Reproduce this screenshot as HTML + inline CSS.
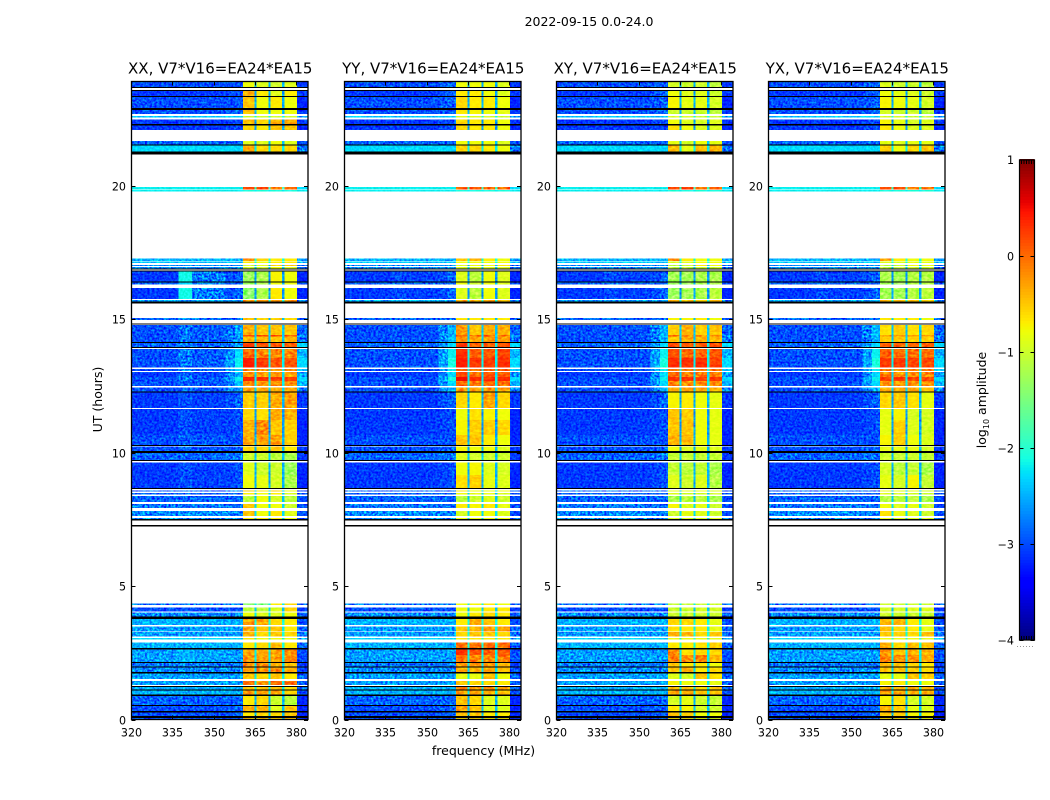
<!DOCTYPE html>
<html>
<head>
<meta charset="utf-8">
<title>2022-09-15 dynamic spectra</title>
<style>
html,body{margin:0;padding:0;background:#fff;}
svg{display:block;}
text{font-family:"DejaVu Sans","Liberation Sans",sans-serif;fill:#000;}
</style>
</head>
<body>
<svg id="chart" xmlns="http://www.w3.org/2000/svg" width="1050" height="800" viewBox="0 0 1050 800">
  <defs>
    <filter id="speckle-strong" filterUnits="userSpaceOnUse" x="0" y="0" width="1050" height="800" color-interpolation-filters="sRGB">
      <feTurbulence type="fractalNoise" baseFrequency="0.42 0.5" numOctaves="2" seed="3" result="n"/>
      <feColorMatrix in="n" type="matrix" values="2 0 0 0 -0.5 2 0 0 0 -0.5 2 0 0 0 -0.5 0 0 0 0 1" result="g"/>
      <feBlend in="g" in2="SourceGraphic" mode="overlay" result="b"/>
      <feComposite in="b" in2="SourceGraphic" operator="in"/>
    </filter>
    <filter id="speckle-mild" filterUnits="userSpaceOnUse" x="0" y="0" width="1050" height="800" color-interpolation-filters="sRGB">
      <feTurbulence type="fractalNoise" baseFrequency="0.25 0.4" numOctaves="2" seed="8" result="n"/>
      <feColorMatrix in="n" type="matrix" values="1 0 0 0 0 1 0 0 0 0 1 0 0 0 0 0 0 0 0 1" result="g"/>
      <feBlend in="g" in2="SourceGraphic" mode="overlay" result="b"/>
      <feComposite in="b" in2="SourceGraphic" operator="in"/>
    </filter>
  </defs>
  <text x="589" y="26" font-size="12.5" text-anchor="middle">2022-09-15 0.0-24.0</text>
  <g id="panels"></g>
  <text transform="translate(102,399.5) rotate(-90)" font-size="12.5" text-anchor="middle">UT (hours)</text>
  <text x="483.5" y="755" font-size="12.5" text-anchor="middle">frequency (MHz)</text>
  <g id="colorbar"></g>
  <text transform="translate(986,400) rotate(-90)" font-size="12.5" text-anchor="middle">log<tspan font-size="8" dy="3">10</tspan><tspan dy="-3"> amplitude</tspan></text>
</svg>
<script>
const panelTitles = ["XX, V7*V16=EA24*EA15","YY, V7*V16=EA24*EA15","XY, V7*V16=EA24*EA15","YX, V7*V16=EA24*EA15"];
const xTickValues = [320,335,350,365,380];
const yTickValues = [0,5,10,15,20];
const colorbarTicks = [1,0,-1,-2,-3,-4];
const freqEdges = [320,337,342,354,357.5,360.5,364.6,365.4,369.6,370.4,374.6,375.4,380,384];
const stripeShare = [1,0.1,0.1,0.1];

const utRowTop = [23.88,23.54,23.31,22.83,22.61,22.47,22.25,21.67,21.51,19.94,19.83,17.27,17.15,17.03,16.95,16.77,16.36,16.17,15.71,15.03,14.78,14.40,14.34,14.10,13.88,13.54,13.13,13.01,12.82,12.67,12.44,12.24,11.63,11.22,10.66,10.22,9.99,9.63,9.15,8.57,8.49,8.38,8.07,7.81,7.55,4.35,4.20,4.01,3.76,3.49,3.27,3.05,2.88,2.63,2.41,2.12,1.94,1.73,1.45,1.22,1.08,0.88,0.52,0.27,0.06];
const utRowBottom = [23.65,23.35,22.90,22.68,22.54,22.30,22.08,21.54,21.27,19.85,19.78,17.18,17.09,16.99,16.90,16.40,16.30,15.75,15.66,14.96,14.40,14.34,14.13,13.96,13.54,13.18,13.05,12.82,12.67,12.49,12.28,11.67,11.22,10.66,10.28,10.06,9.72,9.15,8.67,8.53,8.42,8.15,7.92,7.62,7.51,4.28,4.05,3.85,3.53,3.30,3.10,3.00,2.67,2.41,2.15,1.98,1.77,1.51,1.29,1.12,0.93,0.55,0.31,0.13,0];
const flaggedSpans = [[23.65,23.69],[23.54,23.58],[23.31,23.35],[22.83,22.90],[22.25,22.30],[21.51,21.54],[21.17,21.27],[16.86,16.90],[16.79,16.82],[16.36,16.40],[15.58,15.66],[14.79,14.84],[14.10,14.13],[13.93,13.96],[12.24,12.28],[10.24,10.28],[9.99,10.06],[9.68,9.72],[8.63,8.67],[7.45,7.51],[7.22,7.28],[3.81,3.85],[3.76,3.80],[2.63,2.67],[2.12,2.15],[1.94,1.98],[1.73,1.77],[1.22,1.25],[1.08,1.12],[0.88,0.93],[0.52,0.55],[0.27,0.31],[0.06,0.13]];

// shared per-row levels: low band, 337-342 stripe, upper edge, channel gaps
const sharedBand = [
[-3.0,-3.0,-3.1,-2.5],[-3.1,-3.1,-3.1,-2.6],[-3.0,-3.0,-3.2,-2.5],[-3.0,-3.0,-3.1,-2.5],[-2.4,-2.4,-2.6,-2.1],
[-3.1,-3.1,-3.1,-2.6],[-3.1,-3.1,-3.2,-2.6],[-2.9,-2.9,-3.0,-2.4],[-2.3,-2.3,-2.8,-2.2],[-2.2,-2.2,-2.3,-1.9],
[-2.2,-2.2,-2.2,-2.2],[-2.5,-2.5,-2.6,-2.1],[-2.4,-2.4,-2.5,-2.1],[-2.7,-2.7,-2.9,-2.4],[-2.7,-2.7,-2.9,-2.4],
[-3.1,-2.15,-3.2,-2.6],[-2.9,-2.3,-3.0,-2.5],[-3.1,-2.15,-3.2,-2.6],[-2.6,-2.6,-2.7,-2.1],[-2.9,-2.8,-2.9,-2.4],
[-3.0,-2.8,-2.9,-2.4],[-3.0,-2.8,-2.6,-2.3],[-3.0,-2.8,-2.8,-2.4],[-2.9,-2.8,-2.3,-2.2],[-3.0,-2.8,-2.5,-2.2],
[-3.0,-2.8,-2.3,-2.2],[-3.0,-2.8,-2.4,-2.2],[-3.1,-2.9,-2.6,-2.3],[-3.0,-2.8,-2.3,-2.2],[-3.0,-2.9,-2.5,-2.2],
[-3.0,-2.9,-2.7,-2.3],[-3.1,-3.0,-3.1,-2.5],[-3.1,-3.0,-3.2,-2.6],[-3.1,-3.0,-3.2,-2.6],[-3.0,-2.9,-3.2,-2.5],
[-3.0,-2.9,-3.1,-2.5],[-2.9,-2.9,-3.1,-2.4],[-3.1,-3.0,-3.2,-2.5],[-3.1,-3.0,-3.2,-2.5],[-2.9,-2.9,-3.0,-2.3],
[-2.9,-2.9,-3.0,-2.4],[-2.9,-2.9,-3.0,-2.4],[-2.8,-2.8,-3.0,-2.3],[-2.7,-2.7,-3.0,-2.3],[-2.7,-2.7,-2.9,-2.3],
[-2.8,-2.8,-2.9,-2.2],[-3.0,-3.0,-3.1,-2.4],[-2.7,-2.7,-2.9,-2.2],[-2.5,-2.5,-3.0,-2.1],[-2.6,-2.6,-2.9,-2.2],
[-2.6,-2.6,-2.8,-2.1],[-2.3,-2.3,-2.6,-2.0],[-2.5,-2.5,-2.9,-2.1],[-2.6,-2.5,-3.0,-2.2],[-2.6,-2.5,-3.0,-2.2],
[-2.8,-2.7,-3.1,-2.3],[-2.7,-2.7,-3.0,-2.3],[-2.6,-2.6,-2.9,-2.2],[-2.6,-2.6,-2.9,-2.2],[-2.5,-2.5,-2.9,-2.2],
[-2.5,-2.5,-3.0,-2.2],[-2.9,-2.9,-3.2,-2.5],[-3.0,-3.0,-3.2,-2.4],[-3.0,-3.0,-3.2,-2.4],[-3.0,-3.0,-3.2,-2.5]];

// per-product levels: shoulder, then four correlator sub-bands
const xxBand = [
[-3.0,-0.8,-0.9,-1.0,-0.9],[-3.0,-0.4,-0.7,-0.9,-0.7],[-3.0,-0.5,-0.8,-0.7,-0.8],[-2.9,-0.5,-0.8,-0.8,-0.8],[-2.3,-1.0,-1.0,-1.0,-1.0],
[-3.0,-0.5,-0.6,-0.4,-0.35],[-3.0,-0.6,-0.7,-0.5,-0.5],[-2.9,-0.9,-0.9,-0.8,-0.9],[-2.3,-0.4,-0.6,-0.6,-0.6],[-2.2,0.2,0.1,-0.1,0],
[-2.2,-2.1,-2.1,-2.1,-2.1],[-2.5,-0.2,-0.6,-0.7,-0.7],[-2.4,-0.7,-0.8,-0.7,-0.7],[-2.7,-1.0,-0.9,-0.6,-0.5],[-2.7,-1.0,-1.0,-0.8,-0.9],
[-2.9,-1.3,-1.2,-0.75,-0.8],[-2.9,-1.3,-1.2,-0.8,-0.8],[-2.9,-1.4,-1.2,-0.7,-0.8],[-2.6,-0.2,-0.3,-0.3,-0.3],[-2.8,-0.5,-0.6,-0.5,-0.6],
[-2.6,-0.4,-0.5,-0.5,-0.5],[-2.6,0.1,0.2,0.2,0.1],[-2.6,-0.4,-0.4,-0.5,-0.4],[-2.6,0.25,0.1,0.1,0.05],[-2.3,0,-0.15,-0.15,-0.15],
[-2.2,0.4,0.25,0.1,0.1],[-2.3,-0.1,-0.2,-0.2,-0.15],[-2.5,-0.25,-0.3,-0.3,-0.3],[-2.2,0.35,0.3,0.2,0.2],[-2.4,-0.2,-0.25,-0.2,-0.2],
[-2.6,-0.3,-0.35,-0.35,-0.35],[-2.9,-0.55,-0.55,-0.35,-0.3],[-3.0,-0.6,-0.65,-0.35,-0.4],[-3.0,-0.4,-0.2,-0.5,-0.55],[-3.0,-0.35,-0.3,-0.3,-0.55],
[-2.9,-0.6,-0.6,-0.5,-0.7],[-2.8,-1.0,-1.0,-1.1,-1.2],[-3.0,-0.9,-1.0,-1.0,-1.3],[-3.0,-0.8,-0.85,-0.95,-1.2],[-2.8,-0.6,-0.7,-0.6,-0.8],
[-2.9,-0.7,-0.8,-0.7,-0.9],[-2.9,-1.1,-0.8,-0.95,-1.1],[-2.9,-0.5,-0.8,-0.8,-1.0],[-2.8,-0.5,-0.8,-0.7,-0.9],[-2.8,-0.7,-0.7,-0.7,-0.8],
[-2.8,-1.4,-1.5,-0.7,-0.6],[-3.0,-1.1,-1.1,-0.9,-0.6],[-2.7,-0.8,-0.9,-0.9,-0.8],[-2.5,-0.25,-0.3,-0.6,-0.7],[-2.6,-0.3,-0.5,-0.5,-0.7],
[-2.6,-0.4,-0.6,-0.5,-0.6],[-2.3,-0.7,-0.8,-0.8,-0.8],[-2.5,-0.7,-0.6,-0.45,-0.7],[-2.6,-0.35,-0.35,-0.3,-0.2],[-2.6,-0.25,-0.3,-0.25,-0.15],
[-2.8,-0.2,-0.15,-0.4,-0.5],[-2.7,-0.3,-0.25,-0.2,-0.4],[-2.6,-0.5,-0.6,-0.5,-0.7],[-2.6,-0.1,-0.25,0,-0.05],[-2.5,-0.5,-0.5,-0.5,-0.6],
[-2.5,-0.25,-0.3,-0.3,-0.6],[-2.9,-0.7,-0.6,-1.0,-1.1],[-2.9,-0.4,-0.4,-0.9,-0.5],[-2.9,-0.7,-0.6,-0.6,-0.5],[-2.9,-0.5,-0.5,-0.6,-0.5]];
const yyBand = [
[-2.9,-0.8,-0.8,-0.8,-0.9],[-2.9,-0.7,-0.7,-0.8,-0.9],[-2.9,-0.6,-0.7,-0.7,-0.8],[-2.9,-0.7,-0.75,-0.8,-0.85],[-2.3,-0.9,-0.9,-0.95,-1],
[-3.0,-0.6,-0.7,-0.7,-0.8],[-3.0,-0.6,-0.7,-0.7,-0.8],[-2.9,-0.8,-0.8,-0.8,-0.9],[-2.3,-0.6,-0.6,-0.7,-0.8],[-2.2,0.1,0.1,-0.1,0],
[-2.2,-2.1,-2.1,-2.1,-2.1],[-2.5,-0.5,-0.4,-0.7,-0.8],[-2.4,-0.8,-0.8,-0.8,-0.8],[-2.6,-0.9,-0.8,-0.8,-0.7],[-2.6,-0.9,-0.9,-0.9,-0.9],
[-2.9,-0.9,-1.1,-0.8,-0.9],[-2.9,-0.8,-1.0,-0.8,-0.9],[-2.9,-0.9,-1.1,-0.8,-0.9],[-2.6,-0.3,-0.4,-0.4,-0.4],[-2.8,-0.6,-0.7,-0.7,-0.7],
[-2.5,-0.25,-0.5,-0.35,-0.4],[-2.5,0.05,-0.05,0,-0.05],[-2.4,-0.25,-0.35,-0.3,-0.3],[-2.3,0.25,0.05,0.1,0.1],[-2.2,0.3,0.05,0.1,0.2],
[-2.1,0.4,0.25,0.25,0.3],[-2.2,0.1,-0.05,0.05,0.05],[-2.3,0.15,-0.05,0.1,0.1],[-2.1,0.5,0.35,0.3,0.35],[-2.3,0,-0.1,0,-0.05],
[-2.5,-0.2,-0.35,-0.25,-0.3],[-2.9,-0.6,-0.7,-0.3,-0.6],[-3.0,-0.8,-0.65,-0.75,-0.8],[-3.0,-0.75,-0.55,-0.55,-0.6],[-3.0,-0.5,-0.5,-0.7,-0.8],
[-2.9,-0.75,-0.8,-0.8,-0.9],[-2.8,-0.9,-1.0,-1.0,-1.0],[-3.0,-0.8,-0.75,-0.9,-0.95],[-3.0,-0.65,-0.55,-0.85,-0.9],[-2.8,-0.7,-0.8,-0.8,-0.8],
[-2.9,-0.8,-0.85,-0.85,-0.9],[-2.9,-1.1,-1.0,-0.9,-1.0],[-2.9,-0.7,-0.75,-0.7,-0.85],[-2.8,-0.95,-0.8,-0.8,-0.9],[-2.8,-0.8,-0.8,-0.8,-0.8],
[-2.8,-0.8,-0.75,-0.7,-0.8],[-3.0,-0.8,-0.8,-0.7,-0.7],[-2.7,-0.8,-0.7,-0.6,-0.7],[-2.5,-0.7,-0.35,-0.5,-0.7],[-2.6,-0.5,-0.4,-0.3,-0.3],
[-2.6,-0.6,-0.5,-0.5,-0.6],[-2.3,-0.7,-0.7,-0.7,-0.7],[-2.5,0,-0.05,0,-0.05],[-2.6,0.3,0.1,0.05,0.05],[-2.6,-0.05,-0.15,-0.2,-0.1],
[-2.8,-0.3,-0.25,-0.3,-0.4],[-2.7,-0.4,-0.4,-0.35,-0.5],[-2.6,-0.85,-0.85,-0.5,-0.8],[-2.6,-0.5,-0.6,-0.6,-0.7],[-2.5,-0.05,-0.2,-0.2,-0.3],
[-2.5,-0.3,-0.35,-0.4,-0.5],[-2.9,-0.5,-0.6,-0.9,-0.9],[-2.9,-0.3,-0.5,-0.9,-0.9],[-2.9,-0.5,-0.5,-0.7,-0.7],[-2.9,-0.6,-0.6,-0.7,-0.7]];
const xyBand = [
[-2.9,-0.95,-1.0,-1.0,-1.1],[-2.9,-0.8,-0.9,-0.9,-1.0],[-2.9,-0.75,-0.85,-0.85,-0.95],[-2.9,-1.0,-1.0,-1.0,-1.1],[-2.4,-0.95,-0.95,-1.05,-1.05],
[-3.0,-0.8,-0.9,-0.95,-0.9],[-3.0,-0.65,-0.8,-0.9,-0.9],[-2.9,-0.85,-0.95,-0.8,-0.85],[-2.3,-0.45,-0.85,-0.5,-0.4],[-2.2,0.2,0.2,-0.1,0],
[-2.2,-2.1,-2.1,-2.1,-2.1],[-2.5,-0.2,-0.7,-0.8,-0.8],[-2.4,-0.9,-0.9,-0.8,-0.8],[-2.7,-1.1,-1.0,-0.7,-0.8],[-2.7,-1.1,-1.1,-1.0,-1.0],
[-2.9,-1.25,-1.25,-1.2,-1.2],[-2.9,-1.3,-1.3,-1.2,-1.2],[-2.9,-1.3,-1.25,-1.2,-1.1],[-2.6,-0.4,-0.5,-0.5,-0.5],[-2.8,-0.75,-0.75,-0.7,-0.8],
[-2.5,-0.55,-0.4,-0.55,-0.5],[-2.5,-0.1,-0.2,-0.2,-0.2],[-2.5,-0.5,-0.35,-0.4,-0.45],[-2.3,0.15,0.05,0.1,0.1],[-2.2,0.15,0,0,0.1],
[-2.1,0.3,0.3,0.3,0.2],[-2.2,-0.05,-0.1,-0.05,-0.05],[-2.3,-0.05,-0.15,-0.15,-0.1],[-2.2,0.3,0.3,0.25,0.25],[-2.3,-0.15,-0.2,-0.2,-0.2],
[-2.5,-0.3,-0.3,-0.35,-0.4],[-2.9,-0.75,-0.7,-0.8,-0.85],[-3.0,-0.5,-0.55,-0.8,-0.85],[-3.0,-0.5,-0.5,-0.8,-0.85],[-3.0,-0.4,-0.45,-0.8,-0.85],
[-2.9,-0.8,-0.9,-0.85,-0.9],[-2.8,-1.05,-1.05,-1.05,-1.05],[-3.0,-1.05,-1.1,-1.05,-1.2],[-3.0,-0.9,-1.0,-0.9,-1.15],[-2.8,-0.85,-0.85,-0.85,-0.9],
[-2.9,-0.9,-0.95,-0.95,-1.0],[-2.9,-1.2,-1.1,-1.1,-1.2],[-2.9,-0.75,-0.9,-0.85,-1.0],[-2.8,-1.0,-0.85,-0.9,-1.0],[-2.8,-0.9,-0.9,-0.9,-0.9],
[-2.8,-1.05,-1.05,-1.05,-1.0],[-3.0,-1.0,-1.0,-0.95,-0.95],[-2.7,-1.0,-1.0,-1.0,-1.0],[-2.5,-0.6,-0.6,-0.7,-0.85],[-2.6,-0.65,-0.7,-0.7,-0.85],
[-2.6,-0.35,-0.4,-0.6,-0.5],[-2.3,-0.8,-0.8,-0.8,-0.85],[-2.5,-0.7,-0.7,-0.65,-0.55],[-2.6,-0.15,-0.65,-0.6,-0.6],[-2.6,-0.15,-0.2,-0.1,-0.45],
[-2.8,-0.5,-0.7,-0.7,-0.8],[-2.7,-0.5,-0.4,-0.7,-0.6],[-2.6,-0.9,-0.95,-0.5,-0.65],[-2.6,-0.75,-0.8,-0.8,-0.85],[-2.5,-0.45,-0.5,-0.6,-0.5],
[-2.5,-0.35,-0.35,-0.5,-0.5],[-2.9,-0.95,-0.85,-1.0,-1.05],[-2.9,-0.7,-0.75,-0.95,-1.0],[-2.9,-0.5,-0.55,-0.8,-0.8],[-2.9,-0.7,-0.7,-0.8,-0.9]];
const yxBand = [
[-2.9,-0.9,-1.0,-1.0,-1.1],[-2.9,-0.8,-0.85,-0.9,-1.0],[-2.9,-0.75,-0.8,-0.85,-0.95],[-2.9,-0.95,-1.0,-1.0,-1.1],[-2.4,-0.95,-0.95,-1.05,-1.05],
[-3.0,-0.75,-0.85,-0.95,-0.9],[-3.0,-0.7,-0.8,-0.9,-0.9],[-2.9,-0.85,-0.9,-0.85,-0.85],[-2.3,-0.55,-0.8,-0.6,-0.5],[-2.2,0.15,0.15,-0.1,-0.05],
[-2.2,-2.1,-2.1,-2.1,-2.1],[-2.5,-0.3,-0.7,-0.8,-0.8],[-2.4,-0.9,-0.9,-0.85,-0.85],[-2.7,-1.1,-1.0,-0.8,-0.85],[-2.7,-1.1,-1.1,-1.0,-1.0],
[-2.9,-1.2,-1.25,-1.15,-1.15],[-2.9,-1.25,-1.3,-1.15,-1.15],[-2.9,-1.25,-1.25,-1.15,-1.1],[-2.6,-0.45,-0.5,-0.5,-0.55],[-2.8,-0.7,-0.7,-0.7,-0.8],
[-2.5,-0.65,-0.55,-0.65,-0.6],[-2.5,-0.2,-0.3,-0.3,-0.3],[-2.5,-0.55,-0.5,-0.55,-0.55],[-2.3,0.1,0,0,0.05],[-2.2,0.05,-0.05,-0.05,0],
[-2.1,0.25,0.25,0.2,0.15],[-2.2,-0.15,-0.2,-0.1,-0.1],[-2.3,-0.1,-0.2,-0.2,-0.15],[-2.2,0.25,0.25,0.2,0.15],[-2.3,-0.2,-0.25,-0.2,-0.2],
[-2.5,-0.35,-0.35,-0.35,-0.45],[-2.9,-0.6,-0.5,-0.65,-0.85],[-3.0,-0.85,-0.75,-0.95,-0.95],[-3.0,-0.85,-0.55,-0.9,-0.95],[-3.0,-0.75,-0.55,-0.8,-0.9],
[-2.9,-0.85,-0.85,-0.85,-0.95],[-2.8,-1.0,-1.05,-1.0,-1.05],[-3.0,-0.95,-1.1,-1.05,-1.2],[-3.0,-0.85,-0.95,-0.75,-1.05],[-2.8,-0.85,-0.85,-0.85,-0.9],
[-2.9,-0.9,-0.95,-0.95,-1.0],[-2.9,-1.15,-1.1,-1.1,-1.2],[-2.9,-0.8,-0.9,-0.85,-1.0],[-2.8,-0.65,-0.85,-0.9,-1.0],[-2.8,-0.85,-0.9,-0.9,-0.9],
[-2.8,-1.0,-1.0,-1.0,-1.0],[-3.0,-0.95,-0.95,-0.9,-0.9],[-2.7,-1.0,-1.0,-1.0,-1.0],[-2.5,-0.4,-0.4,-0.7,-0.85],[-2.6,-0.45,-0.6,-0.7,-0.85],
[-2.6,-0.55,-0.55,-0.6,-0.45],[-2.3,-0.8,-0.8,-0.8,-0.85],[-2.5,-0.35,-0.6,-0.45,-0.5],[-2.6,-0.25,-0.5,-0.4,-0.4],[-2.6,-0.15,-0.2,-0.2,-0.35],
[-2.8,-0.45,-0.5,-0.6,-0.7],[-2.7,-0.5,-0.45,-0.55,-0.6],[-2.6,-0.85,-0.85,-0.5,-0.55],[-2.6,-0.75,-0.7,-0.8,-0.8],[-2.5,-0.35,-0.4,-0.4,-0.4],
[-2.5,-0.3,-0.35,-0.4,-0.4],[-2.9,-0.75,-0.65,-0.95,-0.95],[-2.9,-0.4,-0.55,-0.85,-0.9],[-2.9,-0.5,-0.55,-0.75,-0.75],[-2.9,-0.65,-0.65,-0.75,-0.8]];
const productBands = [xxBand,yyBand,xyBand,yxBand];
const productNames = ["xx","yy","xy","yx"];

const NS = "http://www.w3.org/2000/svg";
const plotLeft = [131.5,344.5,556.5,768.5];
const plotWidth = 176.5;
const plotTop = 81.5;
const plotBottom = 719.5;
const xScale = (mhz, p) => plotLeft[p] + (mhz - 320) * plotWidth / 64;
const yScale = (hour) => plotBottom - hour * 26.7;

function jetChannel(t, points) {
  for (let i = 1; i < points.length; i++) {
    if (t <= points[i][0]) {
      const a = points[i - 1], b = points[i];
      return a[1] + (b[1] - a[1]) * (t - a[0]) / (b[0] - a[0]);
    }
  }
  return points[points.length - 1][1];
}
function colorScale(v) {
  const t = Math.max(0, Math.min(1, (v + 4) / 5));
  const r = jetChannel(t, [[0,0],[0.35,0],[0.66,1],[0.89,1],[1,0.5]]);
  const g = jetChannel(t, [[0,0],[0.125,0],[0.375,1],[0.64,1],[0.91,0],[1,0]]);
  const b = jetChannel(t, [[0,0.5],[0.11,1],[0.34,1],[0.65,0],[1,0]]);
  return "rgb(" + Math.round(r * 255) + "," + Math.round(g * 255) + "," + Math.round(b * 255) + ")";
}
function make(tag, parent) {
  const el = document.createElementNS(NS, tag);
  parent.appendChild(el);
  return el;
}
function cellValue(p, row, bin) {
  const s = sharedBand[row], q = productBands[p][row];
  if (bin === 0) return s[0];
  if (bin === 1) return s[0] + (s[1] - s[0]) * stripeShare[p];
  if (bin === 2) return s[0] + (s[1] - s[0]) * stripeShare[p] * 0.35;
  if (bin === 3) return (s[0] + q[0]) / 2;
  if (bin === 4) return q[0];
  if (bin === 5) return q[1];
  if (bin === 7) return q[2];
  if (bin === 9) return q[3];
  if (bin === 11) return q[4];
  if (bin === 12) return s[2];
  return s[3];
}

const panelsRoot = document.getElementById("panels");
for (let p = 0; p < 4; p++) {
  const panel = make("g", panelsRoot);
  
  

  const heat = make("g", panel);
  
  
  heat.setAttribute("filter", "url(#speckle-strong)");
  heat.setAttribute("shape-rendering", "crispEdges");

  const heatHigh = make("g", panel);
  
  
  heatHigh.setAttribute("filter", "url(#speckle-mild)");
  heatHigh.setAttribute("shape-rendering", "crispEdges");

  const bg = make("rect", heat);
  
  
  bg.setAttribute("x", plotLeft[p]);
  bg.setAttribute("y", plotTop);
  bg.setAttribute("width", plotWidth);
  bg.setAttribute("height", plotBottom - plotTop);
  bg.setAttribute("fill", "#fff");

  for (let r = 0; r < utRowTop.length; r++) {
    for (let b = 0; b < freqEdges.length - 1; b++) {
      const cell = make("rect", (b >= 5 && b <= 11) ? heatHigh : heat);
      
      
      const x0 = xScale(freqEdges[b], p), x1 = xScale(freqEdges[b + 1], p);
      const y0 = yScale(utRowTop[r]), y1 = yScale(utRowBottom[r]);
      cell.setAttribute("x", x0);
      cell.setAttribute("y", y0);
      cell.setAttribute("width", x1 - x0);
      cell.setAttribute("height", y1 - y0);
      cell.setAttribute("fill", colorScale(cellValue(p, r, b)));
    }
  }

  const flags = make("g", panel);
  
  
  flags.setAttribute("shape-rendering", "crispEdges");
  flaggedSpans.forEach(function (span) {
    const bar = make("rect", flags);
    
    
    bar.setAttribute("x", plotLeft[p]);
    bar.setAttribute("y", yScale(span[1]));
    bar.setAttribute("width", plotWidth);
    bar.setAttribute("height", Math.max(1, yScale(span[0]) - yScale(span[1])));
    bar.setAttribute("fill", "#000");
  });

  const frame = make("rect", panel);
  
  
  frame.setAttribute("x", plotLeft[p]);
  frame.setAttribute("y", plotTop);
  frame.setAttribute("width", plotWidth);
  frame.setAttribute("height", plotBottom - plotTop);
  frame.setAttribute("fill", "none");
  frame.setAttribute("stroke", "#000");
  frame.setAttribute("stroke-width", "1.3");

  const title = make("text", panel);
  
  
  title.setAttribute("x", plotLeft[p] + plotWidth / 2 + 0.5);
  title.setAttribute("y", 73.5);
  title.setAttribute("font-size", "15");
  title.setAttribute("text-anchor", "middle");
  title.textContent = panelTitles[p];

  xTickValues.forEach(function (v) {
    const x = Math.floor(xScale(v, p)) + 0.5;
    const tickB = make("line", panel);
    
    
    tickB.setAttribute("x1", x); tickB.setAttribute("x2", x);
    tickB.setAttribute("y1", plotBottom); tickB.setAttribute("y2", plotBottom - 4);
    tickB.setAttribute("stroke", "#000");
    const tickT = make("line", panel);
    
    
    tickT.setAttribute("x1", x); tickT.setAttribute("x2", x);
    tickT.setAttribute("y1", plotTop); tickT.setAttribute("y2", plotTop + 4);
    tickT.setAttribute("stroke", "#000");
    const label = make("text", panel);
    
    
    label.setAttribute("x", x);
    label.setAttribute("y", 736.5);
    label.setAttribute("font-size", "11.1");
    label.setAttribute("text-anchor", "middle");
    label.textContent = v;
  });

  yTickValues.forEach(function (v) {
    const y = Math.round(yScale(v)) + 0.5;
    const tickL = make("line", panel);
    
    
    tickL.setAttribute("x1", plotLeft[p]); tickL.setAttribute("x2", plotLeft[p] + 4);
    tickL.setAttribute("y1", y); tickL.setAttribute("y2", y);
    tickL.setAttribute("stroke", "#000");
    const tickR = make("line", panel);
    
    
    tickR.setAttribute("x1", plotLeft[p] + plotWidth); tickR.setAttribute("x2", plotLeft[p] + plotWidth - 4);
    tickR.setAttribute("y1", y); tickR.setAttribute("y2", y);
    tickR.setAttribute("stroke", "#000");
    const label = make("text", panel);
    
    
    label.setAttribute("x", plotLeft[p] - 5.5);
    label.setAttribute("y", y + 4);
    label.setAttribute("font-size", "11.1");
    label.setAttribute("text-anchor", "end");
    label.textContent = v;
  });
}

const cbRoot = document.getElementById("colorbar");
const cbLeft = 1019.5, cbWidth = 15, cbTop = 160, cbHeight = 480;
const cbY = (v) => cbTop + (1 - v) * cbHeight / 5;
const cbRamp = make("g", cbRoot);


cbRamp.setAttribute("shape-rendering", "crispEdges");
for (let v = -4; v < 1; v += 0.03) {
  const swatch = make("rect", cbRamp);
  
  
  swatch.setAttribute("x", cbLeft);
  swatch.setAttribute("y", cbY(v + 0.03));
  swatch.setAttribute("width", cbWidth);
  swatch.setAttribute("height", 3.4);
  swatch.setAttribute("fill", colorScale(v));
}
const cbFrame = make("rect", cbRoot);


cbFrame.setAttribute("x", cbLeft);
cbFrame.setAttribute("y", cbTop);
cbFrame.setAttribute("width", cbWidth);
cbFrame.setAttribute("height", cbHeight);
cbFrame.setAttribute("fill", "none");
cbFrame.setAttribute("stroke", "#000");
cbFrame.setAttribute("stroke-width", "1.2");
colorbarTicks.forEach(function (v) {
  const y = Math.round(cbY(v)) + (v === 1 ? 0 : 0.5);
  const a = make("line", cbRoot);
  
  
  a.setAttribute("x1", cbLeft); a.setAttribute("x2", cbLeft + 4);
  a.setAttribute("y1", y); a.setAttribute("y2", y);
  a.setAttribute("stroke", "#000");
  const c = make("line", cbRoot);
  
  
  c.setAttribute("x1", cbLeft + cbWidth - 4); c.setAttribute("x2", cbLeft + cbWidth);
  c.setAttribute("y1", y); c.setAttribute("y2", y);
  c.setAttribute("stroke", "#000");
  const t = make("text", cbRoot);
  
  
  t.setAttribute("x", 1014);
  t.setAttribute("y", y + 4);
  t.setAttribute("font-size", "11.1");
  t.setAttribute("text-anchor", "end");
  t.textContent = String(v).replace("-", "\u2212");
});
for (let k = 2; k < 15; k += 2.5) {
  const top = make("line", cbRoot);
  
  
  top.setAttribute("x1", cbLeft + k); top.setAttribute("x2", cbLeft + k);
  top.setAttribute("y1", cbTop); top.setAttribute("y2", cbTop + 4);
  top.setAttribute("stroke", "#000");
  const bot = make("line", cbRoot);
  
  
  bot.setAttribute("x1", cbLeft + k); bot.setAttribute("x2", cbLeft + k);
  bot.setAttribute("y1", cbTop + cbHeight); bot.setAttribute("y2", cbTop + cbHeight - 4);
  bot.setAttribute("stroke", "#000");
}
const dots = make("line", cbRoot);


dots.setAttribute("x1", 1017); dots.setAttribute("x2", 1035);
dots.setAttribute("y1", 646.5); dots.setAttribute("y2", 646.5);
dots.setAttribute("stroke", "#999");
dots.setAttribute("stroke-dasharray", "1 2");
</script>
</body>
</html>
